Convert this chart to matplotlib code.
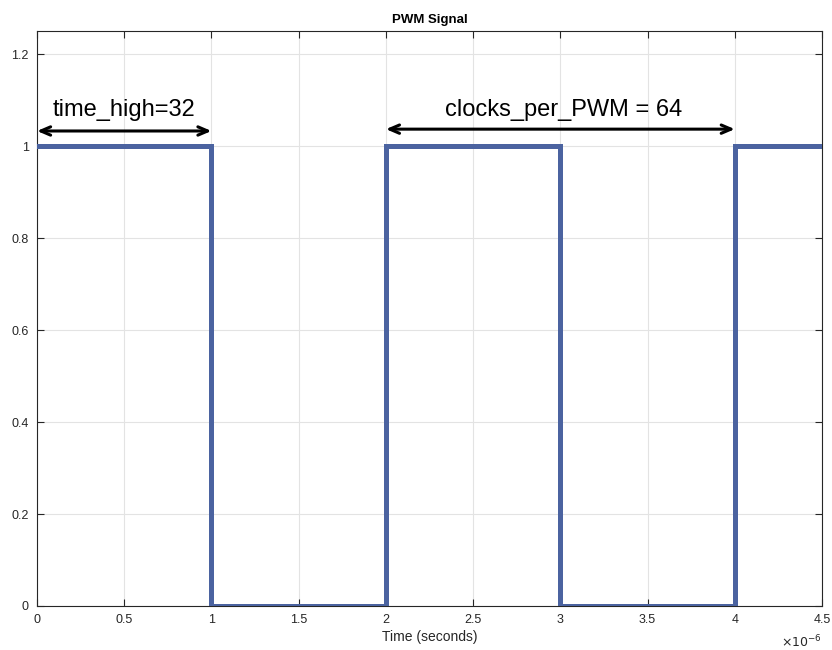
import numpy as np
import matplotlib
matplotlib.use("Agg")
import matplotlib.pyplot as plt

plt.rcParams['font.family'] = ['Liberation Sans', 'DejaVu Sans']

# PWM signal: edges in microseconds and level after each edge
t_edges = [0, 1, 2, 3, 4, 4.5]
level = [1, 0, 1, 0, 1, 1]

x_ticks = [0, 0.5, 1, 1.5, 2, 2.5, 3, 3.5, 4, 4.5]
y_ticks = [0, 0.2, 0.4, 0.6, 0.8, 1, 1.2]

# annotation spans (microseconds)
high_span = [0, 1]
period_span = [2, 4]

fig = plt.figure(figsize=(8.32, 6.5), dpi=100)
ax = fig.add_axes([0.0445, 0.0677, 0.9435, 0.8843])

ax.step(t_edges, level, where='post', color='#4b63a0', lw=3.6, zorder=3,
        solid_joinstyle='miter')

ax.set_xlim(0, 4.5)
ax.set_ylim(0, 1.25)
ax.set_xticks(x_ticks)
ax.set_yticks(y_ticks)
ax.set_xticklabels(['%g' % v for v in x_ticks])
ax.set_yticklabels(['%g' % v for v in y_ticks])
ax.grid(True, color='#e3e3e3', lw=0.8)
ax.set_axisbelow(True)
ax.tick_params(direction='in', top=True, right=True, length=5, width=0.8,
               labelsize=9, colors='#262626', pad=6)
for s in ax.spines.values():
    s.set_color('#262626')
    s.set_linewidth(0.8)

ax.set_title('PWM Signal', fontsize=9.5, fontweight='bold', pad=6)
ax.set_xlabel('Time (seconds)', fontsize=10, color='#262626', labelpad=3)
ax.text(1.0, -0.072, r'$\times10^{-6}$', transform=ax.transAxes,
        ha='right', va='baseline', fontsize=9, color='#262626')

arrow = dict(arrowstyle='<->,head_length=0.7,head_width=0.3', lw=2.2, color='black',
             shrinkA=0, shrinkB=0)
ax.annotate('', xy=(high_span[0], 1.033), xytext=(high_span[1], 1.033), arrowprops=arrow)
ax.text(np.mean(high_span), 1.078, 'time_high=32', ha='center', va='center', fontsize=17)
ax.annotate('', xy=(period_span[0], 1.037), xytext=(period_span[1], 1.037), arrowprops=arrow)
ax.text(3.02, 1.078, 'clocks_per_PWM = 64', ha='center', va='center', fontsize=17)

fig.savefig('out.png', dpi=100)
